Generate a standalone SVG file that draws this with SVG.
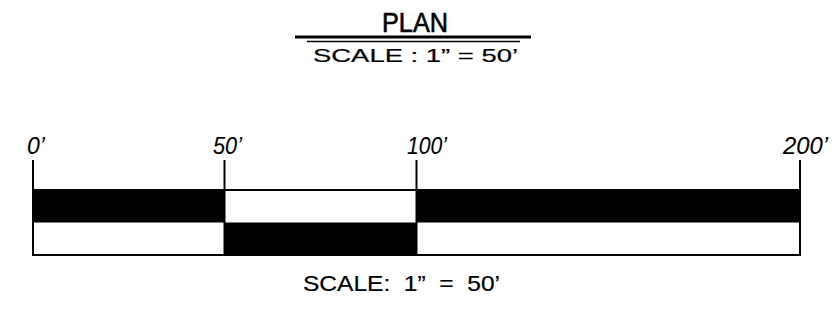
<svg xmlns="http://www.w3.org/2000/svg" width="832" height="323" viewBox="0 0 832 323">
<style>
.t{font-family:"Liberation Sans","DejaVu Sans",sans-serif;fill:#000;stroke:#000;stroke-width:0.2}
.lbl{font-size:23px;font-style:italic;stroke-width:0.1}
.ttl{font-size:27px;stroke-width:0.6}
.ln{stroke:#000;stroke-width:2;fill:none}
</style>
<rect x="0" y="0" width="832" height="323" fill="#fff"/>
<g id="title">
<text class="t ttl" x="415" y="32" text-anchor="middle" textLength="66" lengthAdjust="spacingAndGlyphs">PLAN</text>
<line x1="295" y1="37" x2="531" y2="37" stroke="#000" stroke-width="3"/>
<line x1="307" y1="41.5" x2="520" y2="41.5" stroke="#000" stroke-width="1.5"/>
<text class="t" x="313" y="62" font-size="19" xml:space="preserve" textLength="205" lengthAdjust="spacingAndGlyphs">SCALE : 1” = 50’</text>
</g>
<g id="bar">
<rect x="33" y="190" width="191.5" height="32.5" fill="#000"/>
<rect x="224.5" y="222.5" width="192" height="32.5" fill="#000"/>
<rect x="416.5" y="190" width="383.5" height="32.5" fill="#000"/>
<line class="ln" x1="33" y1="160" x2="33" y2="256"/>
<line class="ln" x1="224.5" y1="160" x2="224.5" y2="255"/>
<line class="ln" x1="416.5" y1="160" x2="416.5" y2="255"/>
<line class="ln" x1="800" y1="160" x2="800" y2="256"/>
<line class="ln" x1="33" y1="255" x2="800" y2="255"/>
<line class="ln" x1="33" y1="190" x2="800" y2="190"/>
</g>
<g id="labels">
<text class="t lbl" x="27" y="154">0’</text>
<text class="t lbl" x="213" y="154" textLength="29" lengthAdjust="spacingAndGlyphs">50’</text>
<text class="t lbl" x="407" y="154" textLength="40" lengthAdjust="spacingAndGlyphs">100’</text>
<text class="t lbl" x="783" y="154" textLength="45" lengthAdjust="spacingAndGlyphs">200’</text>
</g>
<g id="caption">
<text class="t" x="303" y="291" font-size="22" xml:space="preserve" textLength="197" lengthAdjust="spacingAndGlyphs">SCALE:  1”  =  50’</text>
</g>
</svg>
